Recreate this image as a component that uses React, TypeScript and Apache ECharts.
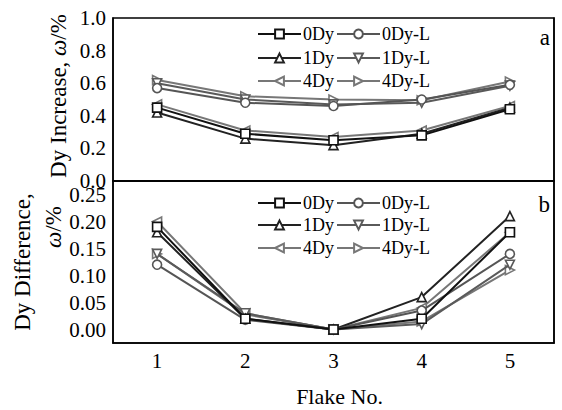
import React, { useEffect, useRef } from "react";
import * as echarts from "echarts";

const categories = ["1", "2", "3", "4", "5"];
const seriesNames = ["0Dy", "0Dy-L", "1Dy", "1Dy-L", "4Dy", "4Dy-L"];

// Panel a: Dy increase (ω/%)
const increase0Dy = [0.45, 0.29, 0.25, 0.28, 0.44];
const increase0DyL = [0.57, 0.48, 0.46, 0.5, 0.59];
const increase1Dy = [0.42, 0.26, 0.22, 0.29, 0.45];
const increase1DyL = [0.6, 0.5, 0.47, 0.48, 0.585];
const increase4Dy = [0.47, 0.31, 0.27, 0.31, 0.46];
const increase4DyL = [0.62, 0.52, 0.5, 0.495, 0.61];

// Panel b: Dy difference (ω/%)
const diff0Dy = [0.19, 0.02, 0, 0.02, 0.18];
const diff0DyL = [0.12, 0.018, 0, 0.035, 0.14];
const diff1Dy = [0.18, 0.02, 0, 0.06, 0.21];
const diff1DyL = [0.14, 0.03, 0, 0.01, 0.12];
const diff4Dy = [0.2, 0.03, 0, 0.04, 0.18];
const diff4DyL = [0.14, 0.028, 0, 0.015, 0.11];

const increaseData = [increase0Dy, increase0DyL, increase1Dy, increase1DyL, increase4Dy, increase4DyL];
const diffData = [diff0Dy, diff0DyL, diff1Dy, diff1DyL, diff4Dy, diff4DyL];

const FONT = "Liberation Serif";
const colors = ["#111111", "#555555", "#222222", "#5a5a5a", "#777777", "#777777"];
const symbols = ["rect", "circle", "triangle", "triangle", "triangle", "triangle"];
const rotations = [0, 0, 0, 180, 90, -90];

export default function App() {
  const ref = useRef<HTMLDivElement>(null);
  useEffect(() => {
    const chart = echarts.init(ref.current!, null, { renderer: "svg" });

    const mkSeries = (data: number[][], idx: number) =>
      seriesNames.map((name, i) => ({
        name,
        type: "line",
        xAxisIndex: idx,
        yAxisIndex: idx * 2,
        data: data[i],
        symbol: symbols[i],
        symbolRotate: rotations[i],
        symbolSize: 9,
        showAllSymbol: true,
        lineStyle: { color: colors[i], width: 2 },
        itemStyle: { color: "#ffffff", borderColor: colors[i], borderWidth: 1.6 },
        z: 10 - i,
      }));

    const legendPos = (top0: number[]) => {
      const out: any[] = [];
      seriesNames.forEach((name, i) => {
        const row = Math.floor(i / 2);
        const col = i % 2;
        out.push({
          data: [name],
          left: col === 0 ? 257 : 336,
          top: top0[row] - 8,
          padding: 0,
          itemWidth: 43,
          itemHeight: 11,
          itemGap: 0,
          selectedMode: false,
          textStyle: { fontFamily: FONT, fontSize: 18, color: "#000", padding: [0, 0, 0, -3] },
        });
      });
      return out;
    };

    const yAxisCommon = {
      axisLine: { show: true, lineStyle: { color: "#000", width: 1.5 } },
      splitLine: { show: false },
    };

    chart.setOption({
      animation: false,
      backgroundColor: "#ffffff",
      grid: [
        { left: 113, top: 18, width: 441, height: 163, show: true, borderColor: "#000", borderWidth: 1.5, backgroundColor: "transparent" },
        { left: 113, top: 181, width: 441, height: 162, show: true, borderColor: "#000", borderWidth: 1.5, backgroundColor: "transparent" },
      ],
      xAxis: [
        {
          gridIndex: 0,
          type: "category",
          data: categories,
          boundaryGap: true,
          axisLine: { onZero: false, lineStyle: { color: "#000", width: 1.5 } },
          axisTick: { inside: true, alignWithLabel: true, length: 5, lineStyle: { color: "#000", width: 1.5 } },
          axisLabel: { show: false },
        },
        {
          gridIndex: 1,
          type: "category",
          data: categories,
          boundaryGap: true,
          axisLine: { onZero: false, lineStyle: { color: "#000", width: 1.5 } },
          axisTick: { inside: true, alignWithLabel: true, length: 5, lineStyle: { color: "#000", width: 1.5 } },
          axisLabel: { fontFamily: FONT, fontSize: 21, color: "#000", margin: 7 },
          name: "Flake No.",
          nameLocation: "middle",
          nameGap: 42,
          nameTextStyle: { fontFamily: FONT, fontSize: 22, color: "#000", padding: [0, 0, 0, 12] },
        },
      ],
      yAxis: [
        {
          gridIndex: 0,
          type: "value",
          min: 0,
          max: 1,
          interval: 0.1,
          ...yAxisCommon,
          axisTick: { inside: true, length: 5, lineStyle: { color: "#000", width: 1.5 } },
          axisLabel: {
            fontFamily: FONT,
            fontSize: 21,
            color: "#000",
            margin: 7,
            showMinLabel: true,
            showMaxLabel: true,
            formatter: (v: number) => {
              const k = Math.round(v * 10);
              return k % 2 === 0 ? (k / 10).toFixed(1) : "";
            },
          },
        },
        {
          gridIndex: 0,
          type: "value",
          position: "right",
          min: 0,
          max: 1,
          interval: 0.1,
          ...yAxisCommon,
          axisTick: { inside: false, length: 3, lineStyle: { color: "#000", width: 1.5 } },
          axisLabel: { show: false },
        },
        {
          gridIndex: 1,
          type: "value",
          min: -0.025,
          max: 0.275,
          interval: 0.025,
          ...yAxisCommon,
          axisTick: { inside: true, length: 5, lineStyle: { color: "#000", width: 1.5 } },
          axisLabel: {
            fontFamily: FONT,
            fontSize: 21,
            color: "#000",
            margin: 7,
            showMinLabel: true,
            showMaxLabel: true,
            formatter: (v: number) => {
              const k = Math.round(v * 1000);
              return k >= 0 && k % 50 === 0 ? (k / 1000).toFixed(2) : "";
            },
          },
        },
        {
          gridIndex: 1,
          type: "value",
          position: "right",
          min: -0.025,
          max: 0.275,
          interval: 0.025,
          ...yAxisCommon,
          axisTick: { inside: false, length: 3, lineStyle: { color: "#000", width: 1.5 } },
          axisLabel: { show: false },
        },
      ],
      legend: [...legendPos([33, 57, 80]), ...legendPos([202, 224, 247])],
      graphic: [
        {
          type: "text",
          x: 58,
          y: 96,
          rotation: Math.PI / 2,
          style: {
            text: "{n|Dy Increase, }{i|ω}{n|/%}",
            rich: {
              n: { fontFamily: FONT, fontSize: 23, fill: "#000" },
              i: { fontFamily: FONT, fontSize: 23, fontStyle: "italic", fill: "#000" },
            },
            align: "center",
            verticalAlign: "middle",
          },
        },
        {
          type: "text",
          x: 22,
          y: 262,
          rotation: Math.PI / 2,
          style: {
            text: "Dy Difference,",
            fontFamily: FONT,
            fontSize: 23,
            fill: "#000",
            align: "center",
            verticalAlign: "middle",
          },
        },
        {
          type: "text",
          x: 53,
          y: 227,
          rotation: Math.PI / 2,
          style: {
            text: "{i|ω}{n|/%}",
            rich: {
              n: { fontFamily: FONT, fontSize: 23, fill: "#000" },
              i: { fontFamily: FONT, fontSize: 23, fontStyle: "italic", fill: "#000" },
            },
            align: "center",
            verticalAlign: "middle",
          },
        },
        {
          type: "text",
          x: 550,
          y: 37,
          style: { text: "a", fontFamily: FONT, fontSize: 23, fill: "#000", align: "right", verticalAlign: "middle" },
        },
        {
          type: "text",
          x: 550,
          y: 204,
          style: { text: "b", fontFamily: FONT, fontSize: 23, fill: "#000", align: "right", verticalAlign: "middle" },
        },
      ],
      series: [...mkSeries(increaseData, 0), ...mkSeries(diffData, 1)],
    });
    return () => chart.dispose();
  }, []);
  return (
    <div
      ref={ref}
      style={{ position: "fixed", left: 0, top: 0, width: 562, height: 410, background: "#fff" }}
    />
  );
}
